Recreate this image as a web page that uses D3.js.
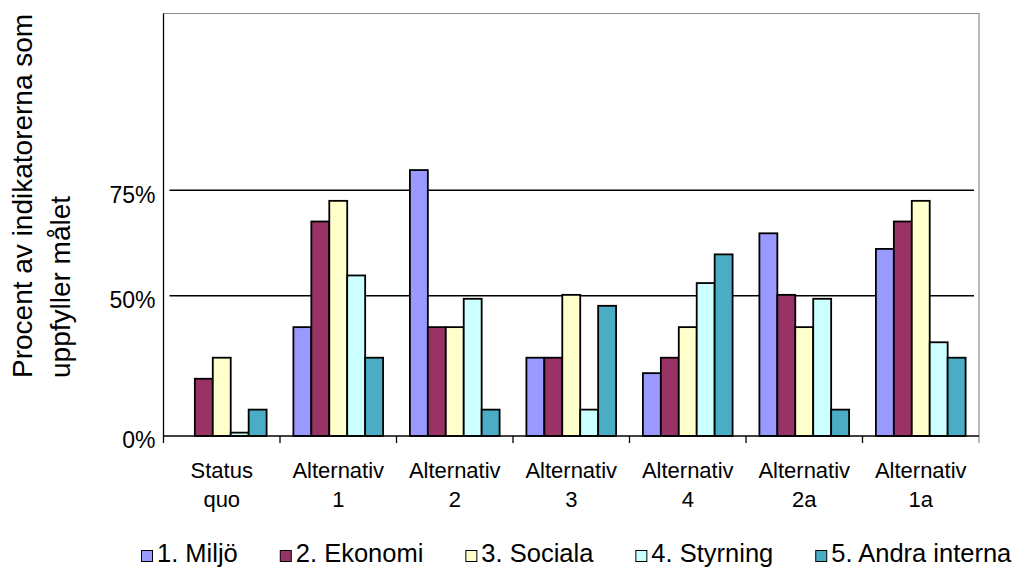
<!DOCTYPE html>
<html>
<head>
<meta charset="utf-8">
<script src="https://cdn.jsdelivr.net/npm/d3@7"></script>
<style>
  body { margin: 0; background: #fff; }
  text { font-family: "Liberation Sans", Arial, sans-serif; fill: #000; }
</style>
</head>
<body>
<div id="chart"></div>
<script>
// categories along x (two-line labels)
const categories = ['Status quo', 'Alternativ 1', 'Alternativ 2', 'Alternativ 3', 'Alternativ 4', 'Alternativ 2a', 'Alternativ 1a'];
const categoryLines = [['Status', 'quo'], ['Alternativ', '1'], ['Alternativ', '2'], ['Alternativ', '3'], ['Alternativ', '4'], ['Alternativ', '2a'], ['Alternativ', '1a']];

const seriesNames = ['1. Miljö', '2. Ekonomi', '3. Sociala', '4. Styrning', '5. Andra interna'];
const seriesColors = ['#9999ff', '#993366', '#ffffcc', '#ccffff', '#4bacc6'];

// percent values per series, one entry per category
const miljo     = [0,    38.8, 79.8, 27.9, 22.4, 64.8, 61.1];
const ekonomi   = [20.4, 67.6, 38.8, 27.9, 27.9, 50.2, 67.6];
const sociala   = [27.9, 72.5, 38.8, 50.2, 38.8, 38.8, 72.5];
const styrning  = [1.2,  54.8, 48.9, 9.4,  53.0, 48.9, 33.4];
const andra     = [9.4,  27.9, 9.4,  46.4, 59.8, 9.4,  27.9];
const seriesValues = [miljo, ekonomi, sociala, styrning, andra];

const yTicks = [0, 50, 75];
const gridTicks = [50, 75];

const W = 1014, H = 567;
const margin = { top: 13.5, right: 35, bottom: 131, left: 163.5 };
const x0 = margin.left, x1 = W - margin.right;
const yBase = H - margin.bottom;

const svg = d3.select('#chart').append('svg')
	.attr('width', W)
	.attr('height', H);

const xScale = d3.scaleBand().domain(categories).range([x0, x1]).paddingInner(0).paddingOuter(0);
const groupPad = 13.4;
const xInScale = d3.scaleBand().domain(seriesNames).range([groupPad, xScale.bandwidth() - groupPad]);
// the original axis is not evenly spaced: 0 / 50 / 75 sit at these heights
const yScale = d3.scaleLinear().domain([0, 50, 75]).range([yBase, 295.7, 190.3]);
const colorScale = d3.scaleOrdinal().domain(seriesNames).range(seriesColors);

// plot frame: grey top and right, black left and bottom
svg.append('path')
	.attr('d', `M${x0},${margin.top}H${x1}V${yBase + 7}`)
	.attr('fill', 'none')
	.attr('stroke', '#8c8c8c')
	.attr('stroke-width', 1.2);

// gridlines
svg.append('g').selectAll('line')
	.data(gridTicks)
	.enter().append('line')
	.attr('x1', x0 + 6)
	.attr('x2', x1 - 5)
	.attr('y1', d => yScale(d))
	.attr('y2', d => yScale(d))
	.attr('stroke', '#000')
	.attr('stroke-width', 1.6);

// bars
const groups = svg.append('g').selectAll('.cat')
	.data(categories)
	.enter().append('g')
	.attr('class', 'cat')
	.attr('transform', d => 'translate(' + xScale(d) + ',0)');

groups.selectAll('rect')
	.data((d, ci) => seriesNames.map((s, si) => ({ series: s, value: seriesValues[si][ci] })).filter(b => b.value > 0))
	.enter().append('rect')
	.attr('x', d => xInScale(d.series))
	.attr('width', xInScale.bandwidth())
	.attr('y', d => yScale(d.value))
	.attr('height', d => yBase - yScale(d.value))
	.attr('fill', d => colorScale(d.series))
	.attr('stroke', '#000')
	.attr('stroke-width', 1.8);

// y axis
const yAxis = d3.axisLeft(yScale)
	.tickValues(yTicks)
	.tickSize(0)
	.tickPadding(8)
	.tickFormat(d => d + '%');
const yG = svg.append('g')
	.attr('transform', 'translate(' + x0 + ',0)')
	.call(yAxis);
yG.select('.domain')
	.attr('d', `M0,${margin.top}V${yBase}`)
	.attr('stroke', '#000')
	.attr('stroke-width', 1.3);
yG.selectAll('.tick text')
	.attr('font-family', '"Liberation Sans", Arial, sans-serif')
	.attr('font-size', 23)
	.attr('fill', '#000')
	.attr('dy', '0.52em');

// x axis with ticks between categories
const xAxis = d3.axisBottom(xScale).tickSize(0).tickFormat('');
const xG = svg.append('g')
	.attr('transform', 'translate(0,' + yBase + ')')
	.call(xAxis);
xG.select('.domain')
	.attr('d', `M${x0},0H${x1}`)
	.attr('stroke', '#000')
	.attr('stroke-width', 1.3);
xG.selectAll('.sep')
	.data(categories.slice(1))
	.enter().append('line')
	.attr('x1', d => xScale(d))
	.attr('x2', d => xScale(d))
	.attr('y1', 0)
	.attr('y2', 7)
	.attr('stroke', '#000')
	.attr('stroke-width', 1.3);
xG.append('line')
	.attr('x1', x0).attr('x2', x0)
	.attr('y1', 0).attr('y2', 7)
	.attr('stroke', '#000')
	.attr('stroke-width', 1.3);

const catLabels = svg.append('g').selectAll('text')
	.data(categories)
	.enter().append('text')
	.attr('x', d => xScale(d) + xScale.bandwidth() / 2)
	.attr('y', yBase + 42)
	.attr('text-anchor', 'middle')
	.attr('font-size', 22);
catLabels.selectAll('tspan')
	.data((d, i) => categoryLines[i])
	.enter().append('tspan')
	.attr('x', function () { return d3.select(this.parentNode).attr('x'); })
	.attr('dy', (d, i) => i === 0 ? 0 : 29)
	.text(d => d);

// y axis title
const title = svg.append('text')
	.attr('transform', 'translate(32,378) rotate(-90)')
	.attr('text-anchor', 'start')
	.attr('font-size', 28);
title.append('tspan').attr('x', 0).attr('y', 0).text('Procent av indikatorerna som');
title.append('tspan').attr('x', 0).attr('y', 38).text('uppfyller målet');

// legend
const legend = svg.append('g').attr('transform', 'translate(141,0)');
let lx = 0;
seriesNames.forEach((name, i) => {
	const item = legend.append('g').attr('transform', 'translate(' + lx + ',0)');
	item.append('rect')
		.attr('x', 0.5)
		.attr('y', 550.5)
		.attr('width', 11)
		.attr('height', 11)
		.attr('fill', colorScale(name))
		.attr('stroke', '#000')
		.attr('stroke-width', 1);
	const t = item.append('text')
		.attr('x', 16)
		.attr('y', 562)
		.attr('font-size', 25.5)
		.text(name);
	lx += 16 + t.node().getComputedTextLength() + 42;
});
</script>
</body>
</html>
